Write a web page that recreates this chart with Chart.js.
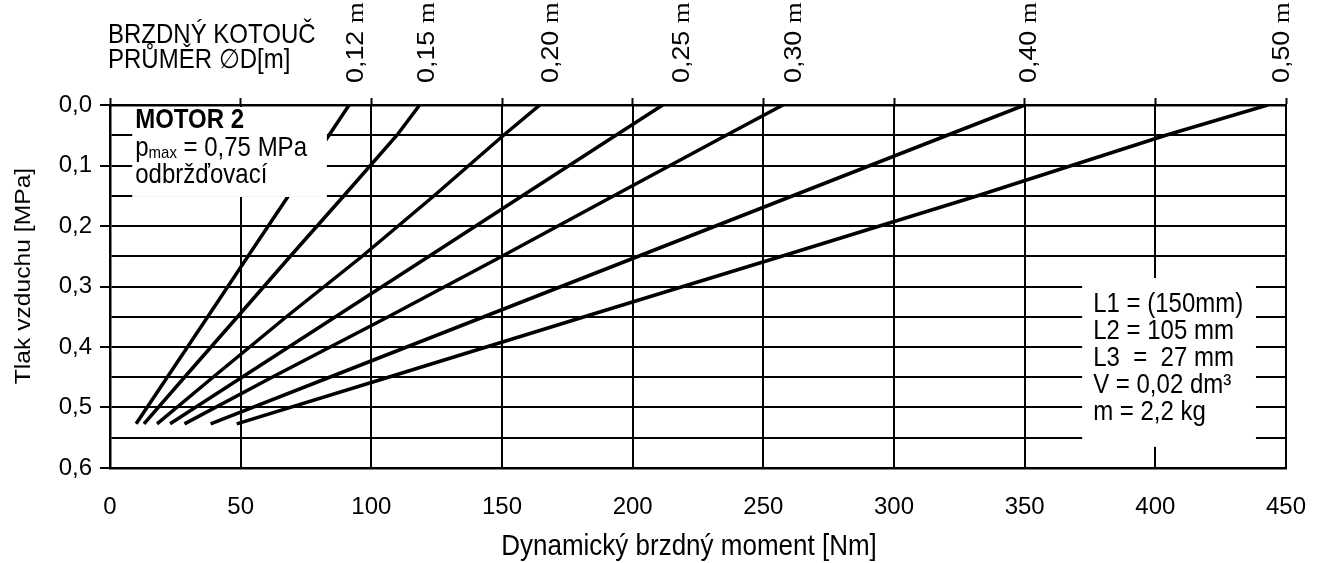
<!DOCTYPE html>
<html>
<head>
<meta charset="utf-8">
<script src="https://cdn.jsdelivr.net/npm/chart.js@4.4.1/dist/chart.umd.min.js"></script>
<style>
  html, body { margin: 0; padding: 0; background: #fff; }
  #wrap { width: 1324px; height: 563px; position: relative; }
</style>
</head>
<body>
<div id="wrap"><canvas id="brakeChart"></canvas></div>
<script>
// pressure levels (MPa) shared by all disc lines, bottom end -> top end
const pressureLevels = [0.527, 0.45, 0.35, 0.25, 0.15, 0.05, 0];

// dynamic braking moment [Nm] read at each pressure level, one array per disc diameter
const momentD012 = [10, 21.9, 37.4, 52.8, 68.3, 83.8, 91.5];
const momentD015 = [13, 28.5, 48.8, 69, 89.5, 109.8, 118.5];
const momentD020 = [18, 39.4, 67.5, 96.5, 124, 150.6, 164.5];
const momentD025 = [23, 50.5, 86.3, 122.1, 157.8, 193.6, 211.5];
const momentD030 = [28.5, 62, 106.5, 150, 192.8, 235.8, 257.5];
const momentD040 = [38.5, 84, 143.1, 202.2, 261.3, 320.4, 350];
const momentD050 = [48.5, 106.5, 181.5, 257, 332, 404, 443];

const diameterNames = ['0,12', '0,15', '0,20', '0,25', '0,30', '0,40', '0,50'];
const diameterLabelAt = [94.3, 121.4, 168.9, 219, 262, 351.8, 448.6];

const xTitle = 'Dynamický brzdný moment [Nm]';
const yTitle = 'Tlak vzduchu [MPa]';
const headerLines = ['BRZDNÝ KOTOUČ', 'PRŮMĚR ∅D[m]'];
const motorName = 'MOTOR 2';
const motorNotes = [' = 0,75 MPa', 'odbržďovací'];
const paramLines = ['L1 = (150mm)', 'L2 = 105 mm', 'L3  =  27 mm', 'V = 0,02 dm³', 'm = 2,2 kg'];

const SANS = '"Liberation Sans", Arial, sans-serif';
const SERIF = '"Liberation Serif", "Times New Roman", serif';
const STRETCH = 1.12; // text in the original is a bit taller than Arial

const allMoments = [momentD012, momentD015, momentD020, momentD025, momentD030, momentD040, momentD050];

const datasets = allMoments.map((m, i) => ({
    label: diameterNames[i] + ' m',
    data: pressureLevels.map((p, j) => ({ x: m[j], y: p })),
    showLine: true,
    borderColor: '#000',
    borderWidth: 3.5,
    pointRadius: 0,
    tension: 0
}));

const isMajor = v => Math.round(v * 100) % 10 === 0;

function tallText(ctx, text, x, y) {
    ctx.save();
    ctx.translate(x, y);
    ctx.scale(1, STRETCH);
    ctx.fillText(text, 0, 0);
    ctx.restore();
}

// white note boxes, header, titles and rotated diameter labels
const notesPlugin = {
    id: 'notes',
    afterDatasetsDraw(chart) {
        const { ctx, chartArea, scales: { x, y } } = chart;
        ctx.save();
        ctx.fillStyle = '#fff';

        const mx1 = x.getPixelForValue(8.5), mx2 = x.getPixelForValue(83);
        const my1 = chartArea.top + 2, my2 = y.getPixelForValue(0.152);
        ctx.fillRect(mx1, my1, mx2 - mx1, my2 - my1);

        const px1 = x.getPixelForValue(372), px2 = x.getPixelForValue(438.5);
        const py1 = y.getPixelForValue(0.286), py2 = y.getPixelForValue(0.565);
        ctx.fillRect(px1, py1, px2 - px1, py2 - py1);

        ctx.fillStyle = '#000';
        ctx.textAlign = 'left';
        ctx.textBaseline = 'alphabetic';

        // MOTOR box
        const tx = mx1 + 3;
        ctx.font = 'bold 24px ' + SANS;
        tallText(ctx, motorName, tx, chartArea.top + 23);
        ctx.font = '24px ' + SANS;
        tallText(ctx, 'p', tx, chartArea.top + 51);
        let off = ctx.measureText('p').width;
        ctx.font = '15px ' + SANS;
        tallText(ctx, 'max', tx + off, chartArea.top + 53);
        off += ctx.measureText('max').width;
        ctx.font = '24px ' + SANS;
        tallText(ctx, motorNotes[0], tx + off, chartArea.top + 51);
        tallText(ctx, motorNotes[1], tx, chartArea.top + 78);

        // parameter box
        paramLines.forEach((t, i) => {
            tallText(ctx, t, px1 + 11, py1 + 34 + i * 26.9);
        });
        ctx.restore();
    },
    afterDraw(chart) {
        const { ctx, chartArea, scales: { x } } = chart;
        ctx.save();
        ctx.fillStyle = '#000';
        ctx.textAlign = 'left';
        ctx.textBaseline = 'alphabetic';
        ctx.font = '24px ' + SANS;
        tallText(ctx, headerLines[0], 108, 43);
        tallText(ctx, headerLines[1], 108, 68);

        // axis titles
        ctx.textAlign = 'center';
        ctx.font = '26px ' + SANS;
        tallText(ctx, xTitle, chartArea.left + 579, 555);

        ctx.save();
        ctx.translate(30, chartArea.top + 171);
        ctx.rotate(-Math.PI / 2);
        ctx.scale(STRETCH, 1);
        ctx.font = '22px ' + SANS;
        ctx.fillText(yTitle, 0, 0);
        ctx.restore();

        // diameter labels above the line ends
        ctx.textAlign = 'left';
        ctx.textBaseline = 'middle';
        diameterLabelAt.forEach((v, i) => {
            ctx.save();
            ctx.translate(x.getPixelForValue(v), chartArea.top - 22);
            ctx.rotate(-Math.PI / 2);
            ctx.scale(STRETCH, 1);
            ctx.font = '24px ' + SANS;
            const num = diameterNames[i] + ' ';
            ctx.fillText(num, 0, 0);
            const w = ctx.measureText(num).width;
            ctx.font = '24px ' + SERIF;
            ctx.fillText('m', w, 0);
            ctx.restore();
        });
        ctx.restore();
    }
};

new Chart(document.getElementById('brakeChart'), {
    type: 'scatter',
    data: { datasets },
    options: {
        responsive: true,
        maintainAspectRatio: false,
        animation: false,
        layout: { padding: { top: 0, right: 38, bottom: 0, left: 0 } },
        plugins: {
            legend: { display: false },
            tooltip: { enabled: false }
        },
        scales: {
            x: {
                type: 'linear',
                position: 'bottom',
                min: 0,
                max: 450,
                afterFit: s => { s.height = 95; },
                ticks: {
                    stepSize: 50,
                    autoSkip: false,
                    maxRotation: 0,
                    padding: 0,
                    color: '#000',
                    font: { family: SANS, size: 24 }
                },
                // invisible tick marks push the labels down without adding side padding
                grid: { color: '#000', lineWidth: 2, drawTicks: true, tickLength: 25, tickColor: 'rgba(0,0,0,0)' },
                border: { color: '#000', width: 2.5 }
            },
            xTop: {
                type: 'linear',
                position: 'top',
                min: 0,
                max: 450,
                afterFit: s => { s.height = 105; },
                ticks: { stepSize: 50, display: false },
                grid: { drawOnChartArea: false, drawTicks: true, tickLength: 7, tickColor: '#000', tickWidth: 2 },
                border: { color: '#000', width: 2.5 }
            },
            y: {
                type: 'linear',
                position: 'left',
                reverse: true,
                min: 0,
                max: 0.6,
                afterFit: s => { s.width = 110; },
                ticks: {
                    stepSize: 0.05,
                    autoSkip: false,
                    padding: 8,
                    color: '#000',
                    font: { family: SANS, size: 24 },
                    callback: v => isMajor(v) ? v.toFixed(1).replace('.', ',') : ''
                },
                grid: {
                    color: '#000',
                    lineWidth: 2,
                    tickLength: 10,
                    tickWidth: 2,
                    tickColor: ctx => isMajor(ctx.tick.value) ? '#000' : 'rgba(0,0,0,0)'
                },
                border: { color: '#000', width: 2.5 }
            }
        }
    },
    plugins: [notesPlugin]
});
</script>
</body>
</html>
